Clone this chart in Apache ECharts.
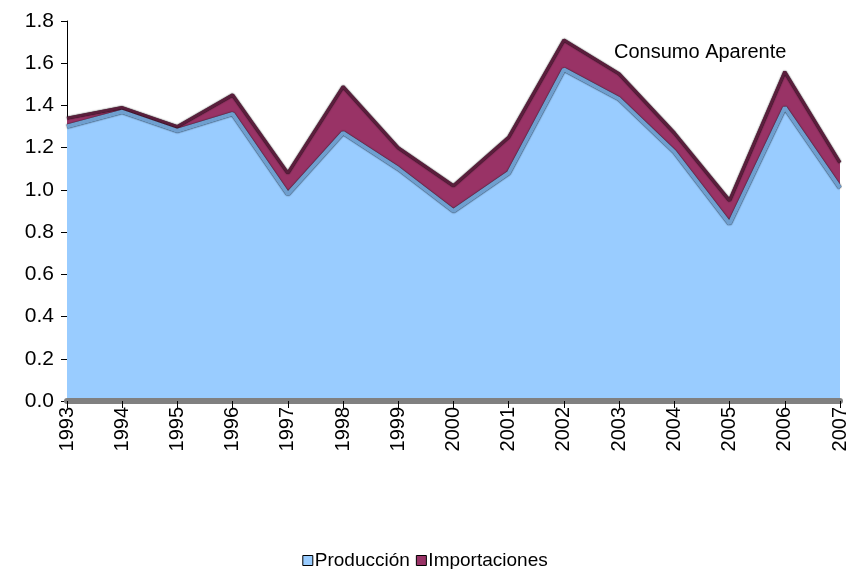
<!DOCTYPE html>
<html>
<head>
<meta charset="utf-8">
<script src="https://cdn.jsdelivr.net/npm/echarts@6/dist/echarts.min.js"></script>
<style>
  html, body { margin: 0; padding: 0; background: #fff; }
  #chart { width: 850px; height: 569px; }
</style>
</head>
<body>
<div id="chart"></div>
<script>
// años
const years = ['1993', '1994', '1995', '1996', '1997', '1998', '1999', '2000',
  '2001', '2002', '2003', '2004', '2005', '2006', '2007']
// series
const produccion = [1.30, 1.37, 1.28, 1.36, 0.98, 1.27, 1.10, 0.90, 1.08, 1.57, 1.43, 1.18, 0.84, 1.39, 1.01]
const importaciones = [0.04, 0.02, 0.02, 0.09, 0.10, 0.22, 0.10, 0.12, 0.17, 0.14, 0.12, 0.09, 0.11, 0.17, 0.12]
const yTicks = { min: 0, max: 1.8, step: 0.2 }

const chart = echarts.init(document.getElementById('chart'))
const fuente = 'Liberation Sans, Arial, sans-serif'

const option = {
  animation: false,
  textStyle: { fontFamily: fuente },
  grid: { left: 67, right: 9, top: 21, bottom: 168 },
  legend: {
    top: 546,
    left: 'center',
    itemWidth: 10,
    itemHeight: 10,
    itemGap: 6,
    icon: 'rect',
    textStyle: { fontSize: 19, color: '#000', padding: [0, 0, 0, -3] },
    data: [
      { name: 'Producción', itemStyle: { borderColor: '#000', borderWidth: 1 } },
      { name: 'Importaciones', itemStyle: { borderColor: '#000', borderWidth: 1 } }
    ]
  },
  xAxis: {
    type: 'category',
    boundaryGap: false,
    data: years,
    z: 10,
    axisLine: { lineStyle: { color: '#808080', width: 6 } },
    axisTick: { show: true, length: 7, lineStyle: { color: '#000', width: 1 } },
    axisLabel: { rotate: 90, fontSize: 20, color: '#000', margin: 6 }
  },
  yAxis: {
    type: 'value',
    min: yTicks.min,
    max: yTicks.max,
    interval: yTicks.step,
    axisLine: { show: true, lineStyle: { color: '#000' } },
    axisTick: { show: true, length: 6, lineStyle: { color: '#000' } },
    splitLine: { show: false },
    axisLabel: {
      fontSize: 21,
      color: '#000',
      margin: 13,
      formatter: (v) => v.toFixed(1)
    }
  },
  series: [
    {
      name: 'Producción',
      type: 'line',
      stack: 'total',
      symbol: 'none',
      data: produccion,
      itemStyle: { color: '#99CCFF' },
      lineStyle: {
        color: '#6F9FCF',
        width: 4,
        shadowColor: '#000',
        shadowBlur: 1.5
      },
      areaStyle: { color: '#99CCFF', opacity: 1 },
      z: 3
    },
    {
      name: 'Importaciones',
      type: 'line',
      stack: 'total',
      symbol: 'none',
      data: importaciones,
      itemStyle: { color: '#993366' },
      lineStyle: {
        color: '#5A1E3C',
        width: 3,
        shadowColor: '#000',
        shadowBlur: 1.5
      },
      areaStyle: { color: '#993366', opacity: 1 },
      z: 2
    }
  ],
  graphic: [
    {
      type: 'text',
      left: 614,
      top: 42,
      style: {
        text: 'Consumo Aparente',
        fontSize: 20,
        fill: '#000',
        fontFamily: fuente
      }
    }
  ]
}

chart.setOption(option)
</script>
</body>
</html>
